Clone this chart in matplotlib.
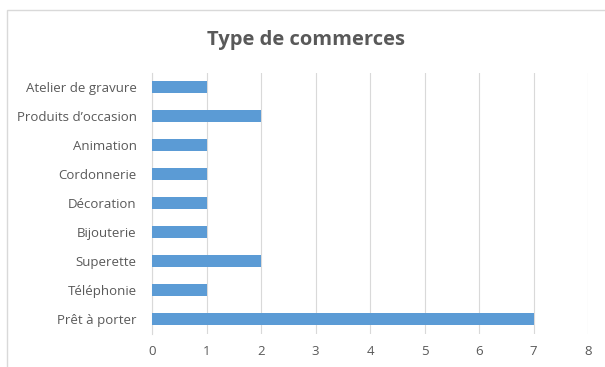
import matplotlib
matplotlib.use("Agg")
import matplotlib.pyplot as plt
from matplotlib.patches import Rectangle

categories = ["Atelier de gravure", "Produits d\u2019occasion", "Animation", "Cordonnerie",
              "D\u00e9coration", "Bijouterie", "Superette", "T\u00e9l\u00e9phonie", "Pr\u00eat \u00e0 porter"]
values = [1, 2, 1, 1, 1, 1, 2, 1, 7]
xticks = [0, 1, 2, 3, 4, 5, 6, 7, 8]
title = "Type de commerces"

plt.rcParams['font.family'] = ['Open Sans', 'DejaVu Sans']
W, H = 605, 367
fig = plt.figure(figsize=(W/100, H/100), dpi=100)
fig.patch.set_facecolor('white')

# chart-area border
fig.add_artist(Rectangle((7/W, -0.05), 1.1, 1 - 10/H + 0.05, transform=fig.transFigure,
                         fill=False, edgecolor='#d9d9d9', linewidth=1.0))

ax = fig.add_axes([152/W, 1 - 333.5/H, (588 - 152)/W, (333.5 - 72.5)/H])
n = len(categories)
ypos = list(range(n))[::-1]
ax.barh(ypos, values, height=0.42, color='#5b9bd5', zorder=3)
ax.set_ylim(-0.5, n - 0.5)
ax.set_xlim(0, 8)
ax.set_xticks(xticks)
ax.set_xticklabels([str(t) for t in xticks])
ax.set_yticks(ypos)
ax.set_yticklabels(categories)
ax.grid(axis='x', color='#d9d9d9', linewidth=0.8, zorder=0)
for s in ['top', 'right', 'bottom']:
    ax.spines[s].set_visible(False)
ax.spines['left'].set_color('#d9d9d9')
ax.tick_params(axis='both', length=0, colors='#595959', labelsize=9.5)
ax.tick_params(axis='x', pad=8)
ax.tick_params(axis='y', pad=11)

fig.text((7 + 605) / 2 / W, 1 - 40/H, title, ha='center', va='center',
         fontsize=14.5, fontweight='bold', color='#595959')

fig.savefig('out.png', dpi=100)
